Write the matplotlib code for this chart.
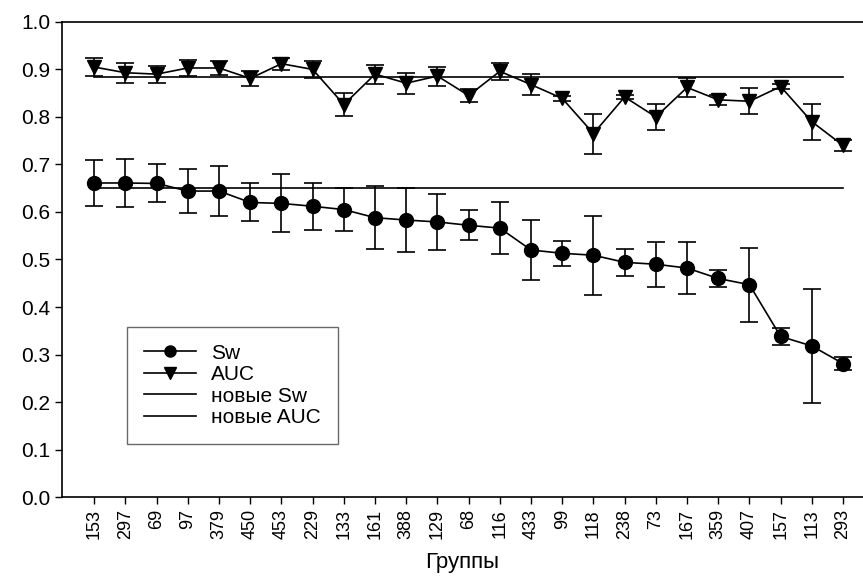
import numpy as np
import matplotlib
matplotlib.use("Agg")
import matplotlib.pyplot as plt
from matplotlib.lines import Line2D

plt.rcParams['font.family'] = ['Liberation Sans', 'DejaVu Sans']

# groups along the x axis
groups = ["153", "297", "69", "97", "379", "450", "453", "229", "133", "161",
          "388", "129", "68", "116", "433", "99", "118", "238", "73", "167",
          "359", "407", "157", "113", "293"]

# Sw means and error half-widths
sw = [0.661, 0.661, 0.660, 0.644, 0.644, 0.620, 0.618, 0.612, 0.605, 0.588,
      0.583, 0.579, 0.572, 0.566, 0.520, 0.513, 0.509, 0.494, 0.490, 0.482,
      0.460, 0.447, 0.338, 0.318, 0.281]
sw_err = [0.048, 0.050, 0.040, 0.046, 0.053, 0.040, 0.061, 0.049, 0.045, 0.066,
          0.067, 0.059, 0.032, 0.055, 0.063, 0.026, 0.083, 0.028, 0.047, 0.054,
          0.018, 0.078, 0.018, 0.120, 0.013]

# AUC means and error half-widths
auc = [0.905, 0.893, 0.890, 0.903, 0.903, 0.881, 0.912, 0.900, 0.826, 0.890,
       0.871, 0.886, 0.845, 0.896, 0.868, 0.839, 0.765, 0.842, 0.800, 0.862,
       0.836, 0.833, 0.864, 0.790, 0.740]
auc_err = [0.018, 0.021, 0.018, 0.016, 0.015, 0.015, 0.013, 0.018, 0.024, 0.020,
           0.022, 0.020, 0.014, 0.018, 0.022, 0.006, 0.042, 0.005, 0.028, 0.020,
           0.010, 0.027, 0.005, 0.038, 0.012]

# reference levels ("новые")
new_sw = 0.65
new_auc = 0.884

x = np.arange(len(groups))

fig = plt.figure(figsize=(8.63, 5.76), dpi=100)
ax = fig.add_axes([0.072, 0.137, 0.928, 0.825])

ax.errorbar(x, sw, yerr=sw_err, color="black", marker="o", markersize=10,
            linewidth=1.2, elinewidth=1.2, capsize=6.5, capthick=1.2)
ax.errorbar(x, auc, yerr=auc_err, color="black", marker="v", markersize=10.5,
            linewidth=1.2, elinewidth=1.2, capsize=6.5, capthick=1.2)
ax.plot([x[0], x[-1]], [new_sw, new_sw], color="black", linewidth=1.2)
ax.plot([x[0], x[-1]], [new_auc, new_auc], color="black", linewidth=1.2)

ax.set_xlim(-1.03, 24.64)
ax.set_ylim(0.0, 1.0)
yt = np.arange(0, 1.01, 0.1)
ax.set_yticks(yt)
ax.set_yticklabels([f"{v:.1f}" for v in yt], fontsize=15)
ax.set_xticks(x)
ax.set_xticklabels(groups, rotation=90, fontsize=13)
ax.tick_params(direction="out", length=5, width=1)
ax.set_xlabel("Группы", fontsize=16, labelpad=9)

ax.spines["right"].set_visible(False)
for s in ["left", "bottom", "top"]:
    ax.spines[s].set_linewidth(1.2)

handles = [
    Line2D([], [], color="black", marker="o", markersize=8, linewidth=1.2),
    Line2D([], [], color="black", marker="v", markersize=8, linewidth=1.2),
    Line2D([], [], color="black", linewidth=1.2),
    Line2D([], [], color="black", linewidth=1.2),
]
leg = ax.legend(handles, ["Sw", "AUC", "новые Sw", "новые AUC"],
                loc="upper left", bbox_to_anchor=(0.081, 0.358), borderaxespad=0,
                fontsize=15, frameon=True, fancybox=False, edgecolor="#444444",
                handlelength=2.5, labelspacing=0.12, borderpad=0.8,
                handletextpad=0.75)
leg.get_frame().set_linewidth(1.0)

fig.savefig("out.png", dpi=100)
